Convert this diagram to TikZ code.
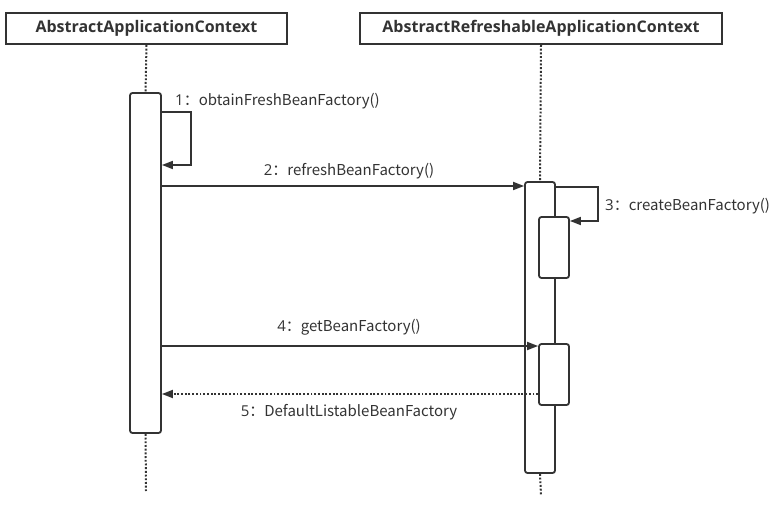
\documentclass[tikz,border=0pt]{standalone}
\usepackage{fontspec}
\setmainfont{Open Sans}
\newfontfamily\cjk{Noto Sans CJK SC}
\usetikzlibrary{arrows.meta}
\definecolor{ink}{HTML}{333333}
\tikzset{
  head/.style={draw=ink, line width=2pt, fill=white, text=ink, font=\bfseries\fontsize{16}{18}\selectfont, inner sep=0pt},
  actbar/.style={draw=ink, line width=1.8pt, fill=white, rounded corners=2.5pt, inner sep=0pt},
  life/.style={draw=ink, line width=2pt, dash pattern=on 1.9pt off 1.8pt},
  msg/.style={draw=ink, line width=1.7pt, -{Triangle[length=11pt,width=8pt]}},
  ret/.style={draw=ink, line width=1.8pt, dash pattern=on 1.9pt off 1.8pt, -{Triangle[length=11pt,width=8pt]}},
  lbl/.style={text=ink, font=\fontsize{15}{17}\selectfont, inner sep=0pt}
}
\begin{document}
\begin{tikzpicture}[x=1pt,y=-1pt]
\useasboundingbox (0,0) rectangle (781,510);
% heads
\node[head, minimum width=281pt, minimum height=31pt] (A) at (146.5,28.5) {AbstractApplicationContext};
\node[head, minimum width=362pt, minimum height=31pt] (B) at (541,28.5) {AbstractRefreshableApplicationContext};
% lifeline ends
\coordinate (endA) at (146,491);
\coordinate (endB) at (541,495);
% activation bars
\node[actbar, minimum width=31pt, minimum height=340pt] (actA) at (145.5,263) {};
\node[actbar, minimum width=30pt, minimum height=291pt] (actB) at (540,327.5) {};
\node[actbar, minimum width=30pt, minimum height=61pt] (actB2) at (554,247.5) {};
\node[actbar, minimum width=30pt, minimum height=61pt] (actB3) at (554,374.5) {};
% lifelines
\draw[life] (A.south) -- (actA.north);
\draw[life] (actA.south) -- (endA);
\draw[life] (B.south) -- (actB.north);
\draw[life] (actB.south) -- (endB);
% corner points of self messages
\coordinate (c1a) at (191,112);
\coordinate (c1b) at (191,165);
\coordinate (c3a) at (598,187);
\coordinate (c3b) at (598,221);
% 1
\draw[msg] (actA.east |- c1a) -- (c1a) -- (c1b) -- (actA.east |- c1b);
\node[lbl, anchor=west] (l1) at (175,101) {1\cjk{：}obtainFreshBeanFactory()};
% 2
\coordinate (y2) at (0,186);
\draw[msg] (actA.east |- y2) -- (actB.west |- y2);
\node[lbl] (l2) at (349,171) {2\cjk{：}refreshBeanFactory()};
% 3
\draw[msg] (actB.east |- c3a) -- (c3a) -- (c3b) -- (actB2.east |- c3b);
\node[lbl, anchor=west] (l3) at (605,206) {3\cjk{：}createBeanFactory()};
% 4
\coordinate (y4) at (0,346);
\draw[msg] (actA.east |- y4) -- (actB3.west |- y4);
\node[lbl] (l4) at (349,327) {4\cjk{：}getBeanFactory()};
% 5
\coordinate (y5) at (0,394);
\draw[ret] (actB3.west |- y5) -- (actA.east |- y5);
\node[lbl] (l5) at (349,412) {5\cjk{：}DefaultListableBeanFactory};
\end{tikzpicture}
\end{document}
